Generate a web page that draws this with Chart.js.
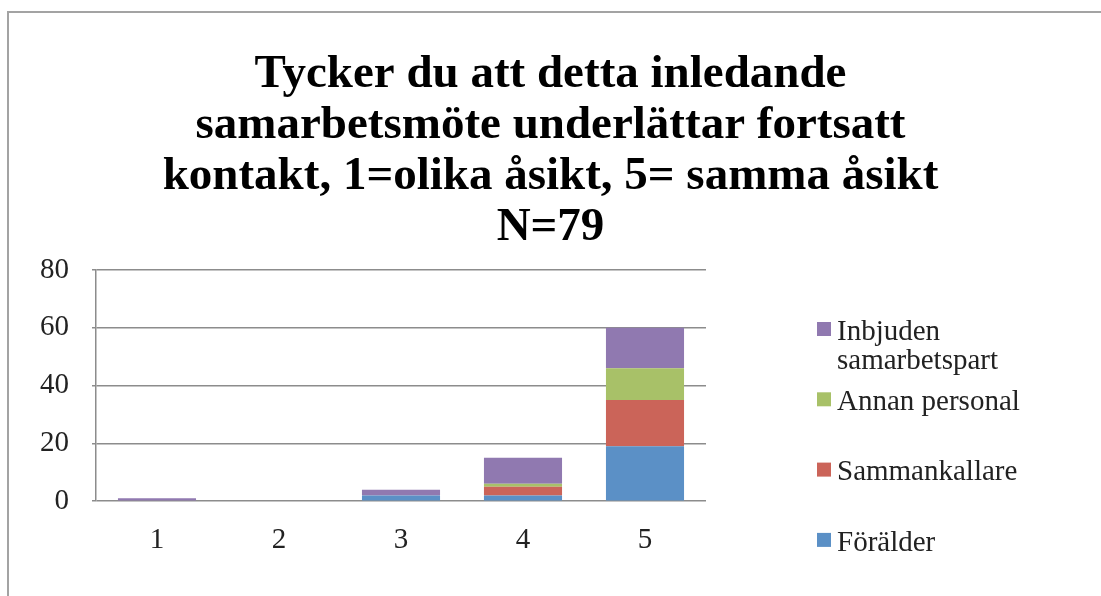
<!DOCTYPE html>
<html>
<head>
<meta charset="utf-8">
<script src="https://cdn.jsdelivr.net/npm/chart.js@4.4.0/dist/chart.umd.min.js"></script>
<style>
  html, body { margin: 0; padding: 0; background: #fff; }
  canvas { display: block; }
</style>
</head>
<body>
<canvas id="grafico" width="1101" height="596"></canvas>
<script>
// kategorier (1=olika åsikt ... 5=samma åsikt)
const kategorier = ['1', '2', '3', '4', '5'];

const foralder = [0, 0, 2, 2, 19];
const sammankallare = [0, 0, 0, 3, 16];
const annanPersonal = [0, 0, 0, 1, 11];
const inbjuden = [1, 0, 2, 9, 14];

const yTicks = [0, 20, 40, 60, 80];

const titelRader = [
    'Tycker du att detta inledande',
    'samarbetsmöte underlättar fortsatt',
    'kontakt, 1=olika åsikt, 5= samma åsikt',
    'N=79'
];

const serif = "'Liberation Serif', 'DejaVu Serif', serif";

// ram runt diagrammet (bara vänster + övre kant syns)
const ram = {
    id: 'ram',
    beforeDraw: (chart) => {
        const c = chart.ctx;
        c.save();
        c.strokeStyle = '#a3a3a3';
        c.lineWidth = 2;
        c.beginPath();
        c.moveTo(8, chart.height + 5);
        c.lineTo(8, 12);
        c.lineTo(chart.width + 5, 12);
        c.stroke();
        c.restore();
    }
};

// titeln centreras över hela bilden, inte bara diagramytan
const titelMitt = {
    id: 'titelMitt',
    afterLayout: (chart) => {
        const t = chart.titleBlock;
        t.left = 0;
        t.right = chart.width;
        t.width = chart.width;
    }
};

// egen legend, Excel-stil med ojämnt avstånd
const legend = {
    id: 'egenLegend',
    afterDraw: (chart) => {
        const c = chart.ctx;
        const ds = chart.data.datasets.slice().reverse();
        c.save();
        c.font = '29px ' + serif;
        c.textBaseline = 'middle';
        ds.forEach((d, i) => {
            const y = 329 + i * 70.3;
            c.fillStyle = d.backgroundColor;
            c.fillRect(817, y - 7, 14, 14);
            c.fillStyle = '#222';
            const rader = d.label.split('\n');
            rader.forEach((r, j) => c.fillText(r, 837, y + 3 + j * 29));
        });
        c.restore();
    }
};

const ctx = document.getElementById('grafico').getContext('2d');

const grafico = new Chart(ctx, {
    type: 'bar',
    data: {
        labels: kategorier,
        datasets: [
            { label: 'Förälder', data: foralder, backgroundColor: '#5b90c6' },
            { label: 'Sammankallare', data: sammankallare, backgroundColor: '#cb6459' },
            { label: 'Annan personal', data: annanPersonal, backgroundColor: '#a8c168' },
            { label: 'Inbjuden\nsamarbetspart', data: inbjuden, backgroundColor: '#9079b0' }
        ]
    },
    options: {
        responsive: false,
        animation: false,
        devicePixelRatio: 1,
        layout: {
            padding: { top: 47, left: 17, right: 395, bottom: 16 }
        },
        datasets: {
            bar: { barPercentage: 0.64, categoryPercentage: 1 }
        },
        plugins: {
            legend: { display: false },
            tooltip: { enabled: false },
            title: {
                display: true,
                text: titelRader,
                color: '#000',
                font: { family: serif, size: 47, weight: 'bold', lineHeight: 1.085 },
                padding: { top: 2, bottom: 17 }
            }
        },
        scales: {
            x: {
                stacked: true,
                grid: { display: false, drawTicks: false },
                border: { display: false },
                ticks: {
                    padding: 22,
                    color: '#222',
                    font: { family: serif, size: 29 }
                }
            },
            y: {
                stacked: true,
                min: 0,
                max: 80,
                afterBuildTicks: (axis) => { axis.ticks = yTicks.map(v => ({ value: v })); },
                grid: { color: '#8c8c8c', lineWidth: 1.5, tickLength: 4 },
                border: { color: '#8c8c8c', width: 1.5 },
                ticks: {
                    padding: 23,
                    color: '#222',
                    font: { family: serif, size: 29 }
                }
            }
        }
    },
    plugins: [ram, titelMitt, legend]
});
</script>
</body>
</html>
